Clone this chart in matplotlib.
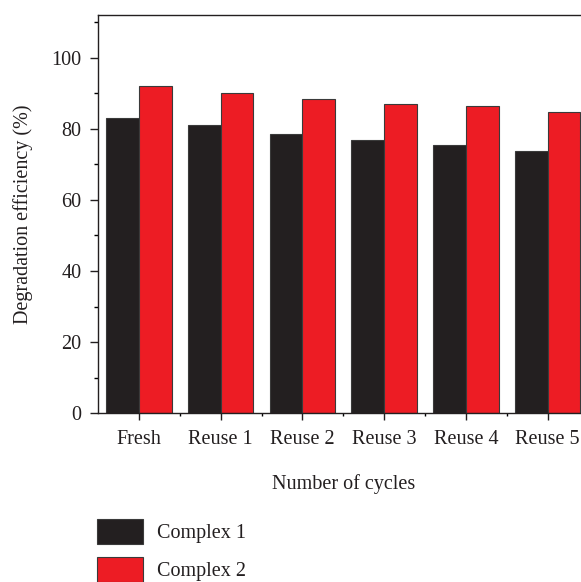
import numpy as np
import matplotlib.pyplot as plt

plt.rcParams['font.family'] = ['Liberation Serif', 'DejaVu Serif']

cycles = ['Fresh', 'Reuse 1', 'Reuse 2', 'Reuse 3', 'Reuse 4', 'Reuse 5']
complex1 = [83.0, 81.0, 78.5, 76.8, 75.4, 73.7]
complex2 = [92.0, 90.1, 88.3, 86.9, 86.3, 84.7]

fig = plt.figure(figsize=(5.81, 5.82), dpi=100)
# axes runs a little past the right edge of the figure
ax = fig.add_axes([0.1687, 0.2899, 0.8444, 0.6843])

x = np.arange(len(cycles))
w = 0.4
b1 = ax.bar(x - w / 2, complex1, w, color='#231f20', edgecolor='#3a3a3a',
            linewidth=0.8, label='Complex 1')
b2 = ax.bar(x + w / 2, complex2, w, color='#ed1c24', edgecolor='#3a3a3a',
            linewidth=0.8, label='Complex 2')

ax.set_xlim(-0.5, 5.5)
ax.set_ylim(0, 112)
ax.set_yticks(np.arange(0, 101, 20))
ax.set_yticks(np.arange(10, 111, 20), minor=True)
ax.set_xticks(x)
ax.set_xticklabels(cycles)
ax.set_xticks(np.arange(0.5, 5.0, 1.0), minor=True)

ax.tick_params(axis='both', which='major', direction='out', labelsize=14.5,
               color='#231f20', labelcolor='#231f20', width=1.0)
ax.tick_params(axis='y', which='major', length=6, pad=6)
ax.tick_params(axis='y', which='minor', length=3, width=1.0)
ax.tick_params(axis='x', which='major', length=5, pad=7)
ax.tick_params(axis='x', which='minor', length=2.5, width=1.0)

for s in ['left', 'bottom', 'top']:
    ax.spines[s].set_linewidth(1.0)
    ax.spines[s].set_color('#231f20')
ax.spines['right'].set_visible(False)

ax.set_xlabel('Number of cycles', fontsize=14.5, labelpad=18, color='#231f20')
ax.set_ylabel('Degradation efficiency (%)', fontsize=14.5, labelpad=13,
              color='#231f20')

fig.legend(handles=[b1, b2], loc='upper left',
           bbox_to_anchor=(97 / 581, 1 - 519 / 582), frameon=False,
           fontsize=14.5, handlelength=2.3, handleheight=1.5,
           labelspacing=0.68, handletextpad=0.68, borderpad=0,
           borderaxespad=0, labelcolor='#231f20')

fig.savefig('out.png', dpi=100)
